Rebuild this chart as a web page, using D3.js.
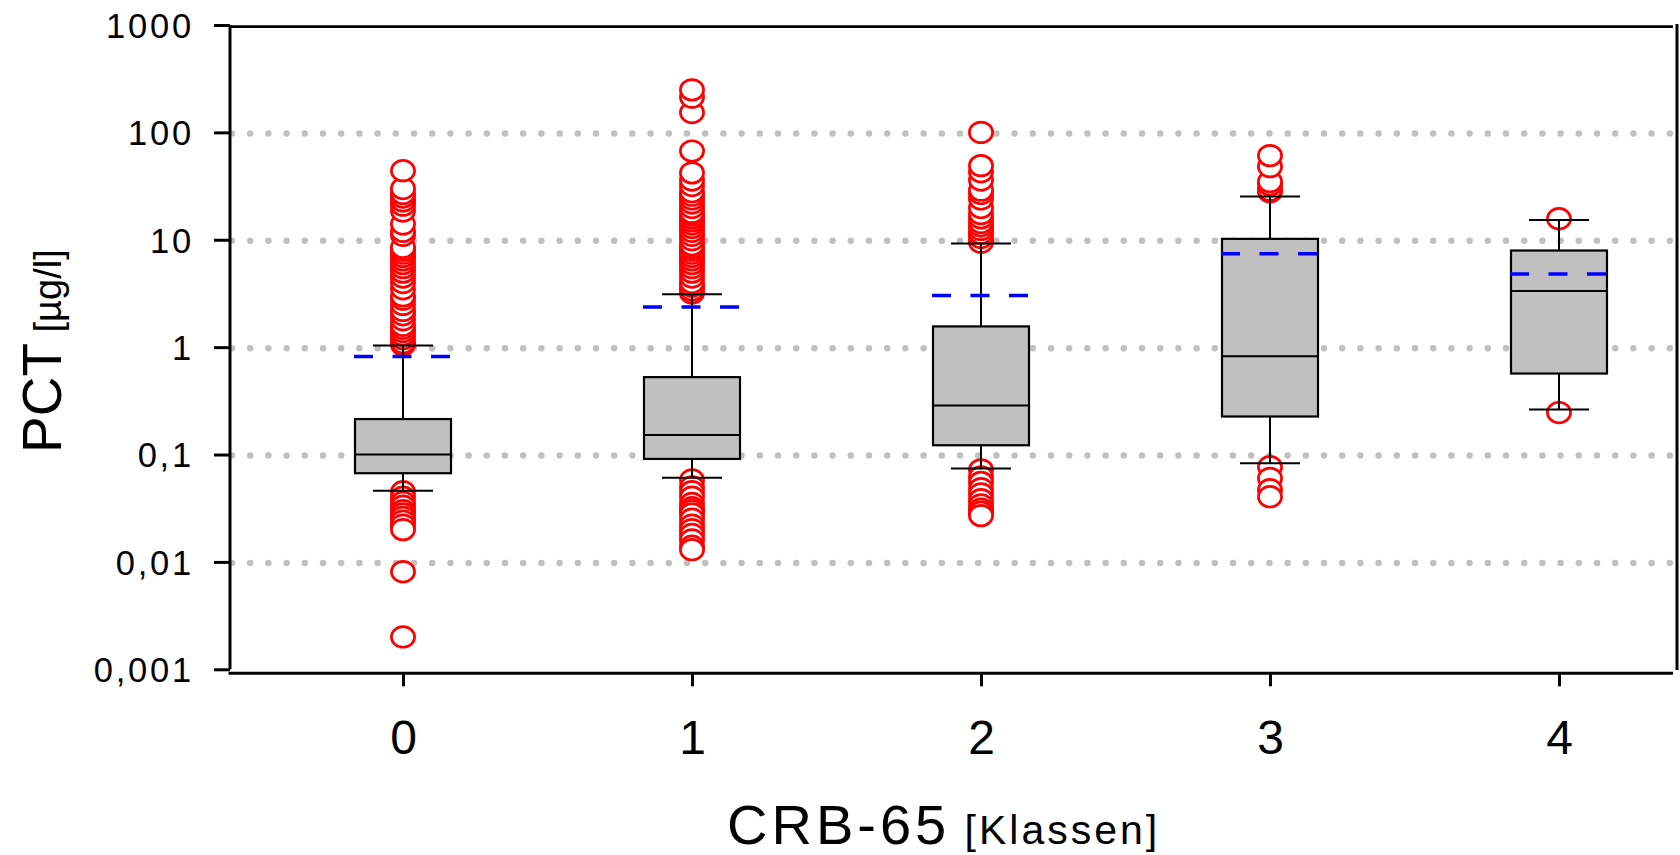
<!DOCTYPE html>
<html>
<head>
<meta charset="utf-8">
<script src="https://cdn.jsdelivr.net/npm/d3@7"></script>
<style>
body { margin: 0; background: #fff; }
text { font-family: Arial, "Liberation Sans", sans-serif; fill: #000; }
</style>
</head>
<body>
<script>
var svgWidth = 1680;
var svgHeight = 855;

var categories = ['0', '1', '2', '3', '4'];
var q1 = [0.067, 0.091, 0.122, 0.226, 0.568];
var median = [0.1, 0.152, 0.286, 0.824, 3.34];
var q3 = [0.214, 0.526, 1.56, 10.2, 7.94];
var whiskerLow = [0.046, 0.0607, 0.074, 0.083, 0.262];
var whiskerHigh = [1.035, 3.11, 9.22, 25.3, 15.3];
var mean = [0.818, 2.36, 3.02, 7.39, 4.81];

var outliersHigh = [
	[1.05, 1.1, 1.2, 1.3, 1.4, 1.5, 1.6, 1.8, 2, 2.2, 2.5, 2.8, 3, 3.5, 4, 4.5, 5, 5.5, 6, 6.5, 7, 7.5, 8, 8.5, 11, 12, 14, 18.5, 21, 23, 25, 27, 30, 44],
	[3.2, 3.4, 3.7, 4, 4.5, 5, 5.5, 6, 6.5, 7, 7.5, 8, 8.5, 9, 10, 11, 12, 13, 14, 15, 16, 17, 18, 20, 22, 24, 26, 28, 32, 36, 42, 67, 153, 213, 249],
	[9.5, 10.5, 11.5, 12.5, 13.5, 14.5, 16, 17.5, 20, 24, 27, 29, 36, 43, 49, 100],
	[28, 29, 32.4, 34.8, 48, 60.8],
	[15.7]
];
var outliersLow = [
	[0.045, 0.04, 0.036, 0.033, 0.03, 0.028, 0.026, 0.024, 0.022, 0.02, 0.0081, 0.002],
	[0.058, 0.05, 0.045, 0.04, 0.035, 0.032, 0.03, 0.028, 0.025, 0.022, 0.02, 0.018, 0.016, 0.014, 0.013],
	[0.072, 0.062, 0.055, 0.048, 0.043, 0.038, 0.034, 0.031, 0.029, 0.027],
	[0.077, 0.06, 0.047, 0.0405],
	[0.246]
];

var yTicks = [0.001, 0.01, 0.1, 1, 10, 100, 1000];
var yTickLabels = ['0,001', '0,01', '0,1', '1', '10', '100', '1000'];
var gridValues = [0.01, 0.1, 1, 10, 100];

var plotLeft = 230, plotRight = 1673, plotTop = 25, plotBottom = 669.3;
var boxWidth = 96, capWidth = 60;

var x = d3.scalePoint().domain(categories).range([403, 1559]);
var y = d3.scaleLog().domain([0.001, 1000]).range([plotBottom, plotTop]);

var boxes = categories.map(function(c, i){
	return {cat: c, q1: q1[i], med: median[i], q3: q3[i], lo: whiskerLow[i], hi: whiskerHigh[i], mean: mean[i]};
});
var points = [];
categories.forEach(function(c, i){
	outliersHigh[i].forEach(function(v){ points.push({cat: c, v: v}); });
	outliersLow[i].forEach(function(v){ points.push({cat: c, v: v}); });
});

var svg = d3.select('body').append('svg')
	.attr('width', svgWidth)
	.attr('height', svgHeight);

// dotted grid
svg.selectAll('line.grid').data(gridValues)
	.enter().append('line')
		.attr('class', 'grid')
		.attr('x1', plotLeft + 2)
		.attr('x2', plotRight)
		.attr('y1', function(d){ return y(d) + 1; })
		.attr('y2', function(d){ return y(d) + 1; })
		.attr('stroke', '#c0c0c0')
		.attr('stroke-width', 6.5)
		.attr('stroke-linecap', 'round')
		.attr('stroke-dasharray', '0 18.2');

// outliers
svg.selectAll('ellipse').data(points)
	.enter().append('ellipse')
		.attr('cx', function(d){ return x(d.cat); })
		.attr('cy', function(d){ return y(d.v); })
		.attr('rx', 11.6)
		.attr('ry', 10.3)
		.attr('fill', '#fff')
		.attr('stroke', '#ff0000')
		.attr('stroke-width', 2.7);

var g = svg.selectAll('g.box').data(boxes)
	.enter().append('g')
		.attr('class', 'box');

// whiskers
g.append('line')
	.attr('x1', function(d){ return x(d.cat); })
	.attr('x2', function(d){ return x(d.cat); })
	.attr('y1', function(d){ return y(d.hi); })
	.attr('y2', function(d){ return y(d.lo); })
	.attr('stroke', '#000')
	.attr('stroke-width', 2);

g.append('rect')
	.attr('x', function(d){ return x(d.cat) - boxWidth/2; })
	.attr('y', function(d){ return y(d.q3); })
	.attr('width', boxWidth)
	.attr('height', function(d){ return y(d.q1) - y(d.q3); })
	.attr('fill', '#c0c0c0')
	.attr('stroke', '#000')
	.attr('stroke-width', 2.2);

g.append('line')
	.attr('x1', function(d){ return x(d.cat) - boxWidth/2; })
	.attr('x2', function(d){ return x(d.cat) + boxWidth/2; })
	.attr('y1', function(d){ return y(d.med); })
	.attr('y2', function(d){ return y(d.med); })
	.attr('stroke', '#000')
	.attr('stroke-width', 2);

['hi', 'lo'].forEach(function(k){
	g.append('line')
		.attr('x1', function(d){ return x(d.cat) - capWidth/2; })
		.attr('x2', function(d){ return x(d.cat) + capWidth/2; })
		.attr('y1', function(d){ return y(d[k]); })
		.attr('y2', function(d){ return y(d[k]); })
		.attr('stroke', '#000')
		.attr('stroke-width', 2);
});

// mean
g.append('line')
	.attr('x1', function(d){ return x(d.cat) - 49; })
	.attr('x2', function(d){ return x(d.cat) + 50; })
	.attr('y1', function(d){ return y(d.mean); })
	.attr('y2', function(d){ return y(d.mean); })
	.attr('stroke', '#0000ff')
	.attr('stroke-width', 3.5)
	.attr('stroke-dasharray', '19 19.5');

// frame lines
svg.append('line').attr('x1', plotLeft).attr('x2', plotRight).attr('y1', 26.7).attr('y2', 26.7)
	.attr('stroke', '#000').attr('stroke-width', 2.7);
svg.append('line').attr('x1', 1677).attr('x2', 1677).attr('y1', 24).attr('y2', 670)
	.attr('stroke', '#000').attr('stroke-width', 3);
svg.append('line').attr('x1', 228.5).attr('x2', plotRight).attr('y1', 673.3).attr('y2', 673.3)
	.attr('stroke', '#000').attr('stroke-width', 3);

// y axis
var yAxis = svg.append('g')
	.attr('transform', 'translate(' + plotLeft + ',0)')
	.call(d3.axisLeft(y).tickValues(yTicks).tickSize(16).tickPadding(0)
		.tickFormat(function(d, i){ return yTickLabels[i]; }));
yAxis.select('.domain').attr('d', 'M0,' + plotTop + 'V' + plotBottom).attr('stroke-width', 3);
yAxis.selectAll('.tick line').attr('stroke-width', 3);
yAxis.selectAll('.tick text')
	.attr('x', -36)
	.attr('dy', '0.36em')
	.style('font-size', '34.5px')
	.style('letter-spacing', '2.8px')
	.style('font-family', 'Arial, "Liberation Sans", sans-serif');

// x axis
var xAxis = svg.append('g')
	.attr('transform', 'translate(0,673.3)')
	.call(d3.axisBottom(x).tickSize(13).tickSizeOuter(0).tickPadding(0));
xAxis.select('.domain').remove();
xAxis.selectAll('.tick line').attr('stroke-width', 3);
xAxis.selectAll('.tick text')
	.attr('y', 80.5)
	.attr('dy', 0)
	.style('font-size', '48px')
	.style('font-family', 'Arial, "Liberation Sans", sans-serif');

// titles
var xt = svg.append('text').attr('x', 727).attr('y', 844);
xt.append('tspan').text('CRB-65').style('font-size', '56px').style('letter-spacing', '4px');
xt.append('tspan').text(' [Klassen]').style('font-size', '41px').style('letter-spacing', '3px');

var yt = svg.append('text').attr('transform', 'translate(61,453) rotate(-90)');
yt.append('tspan').text('PCT').style('font-size', '55px');
yt.append('tspan').text(' [µg/l]').style('font-size', '38px');
</script>
</body>
</html>
